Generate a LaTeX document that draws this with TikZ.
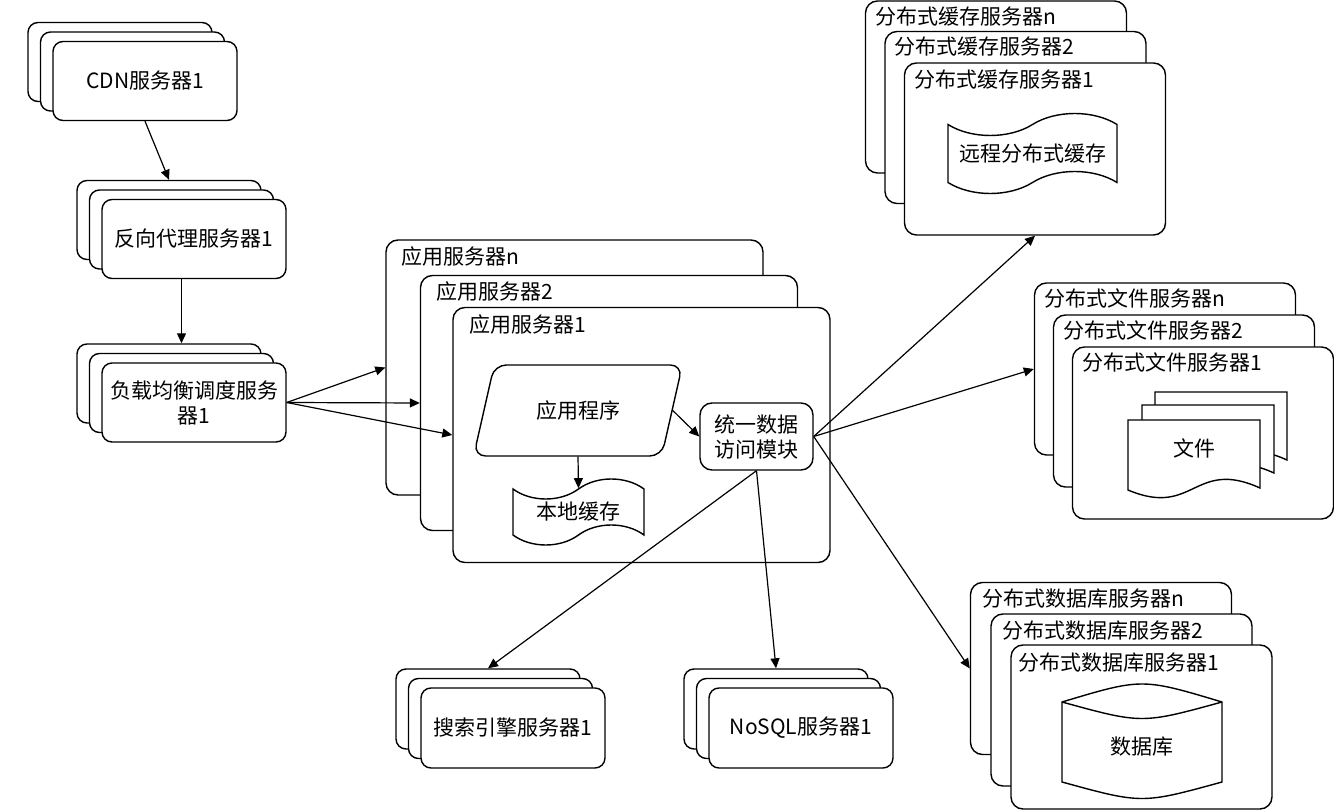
\documentclass[tikz,border=0pt]{standalone}
\usepackage{fontspec}
\setmainfont{Noto Sans CJK SC}
\usepackage{tikz}
\usetikzlibrary{arrows.meta,positioning,calc,shapes.geometric,shapes.symbols}
\tikzset{
  srvbox/.style={draw=black, fill=white, rounded corners=5pt, line width=0.7pt, minimum width=92pt, minimum height=39.5pt, align=center, inner sep=2pt},
  hostbox/.style={draw=black, fill=white, rounded corners=6pt, line width=0.7pt, inner sep=0pt},
  appbox/.style={hostbox, minimum width=188.5pt, minimum height=127.5pt},
  distbox/.style={hostbox, minimum width=130.5pt, minimum height=86pt},
  hostlabel/.style={anchor=west, inner sep=0pt},
  modbox/.style={draw=black, fill=white, rounded corners=6pt, line width=0.7pt, minimum width=56.5pt, minimum height=33.5pt, align=center, inner sep=1pt},
  progbox/.style={trapezium, trapezium left angle=70, trapezium right angle=110, trapezium stretches=true, draw=black, fill=white, rounded corners=6pt, line width=0.7pt, minimum width=105pt, minimum height=45.5pt},
  tapebox/.style={tape, draw=black, fill=white, line width=0.7pt, inner sep=1pt},
  docshape/.style={draw=black, fill=white, line width=0.7pt},
  flowarrow/.style={-{Triangle[length=5pt, width=4.5pt]}, line width=0.6pt},
}

\begin{document}
\begin{tikzpicture}[x=0.5pt, y=-0.5pt, font=\fontsize{10.5}{12.5}\selectfont]
  \useasboundingbox (0,0) rectangle (1334,812);
  % entry chain on the left
  \node[srvbox] (cdn3) at (120,62) {};
  \node[srvbox, on grid, below right=4.75pt and 6.25pt of cdn3] (cdn2) {};
  \node[srvbox, on grid, below right=4.75pt and 6.25pt of cdn2] (cdn1) {CDN服务器1};
  \node[srvbox] (proxy3) at (169,220) {};
  \node[srvbox, on grid, below right=4.75pt and 6.25pt of proxy3] (proxy2) {};
  \node[srvbox, on grid, below right=4.75pt and 6.25pt of proxy2] (proxy1) {反向代理服务器1};
  \node[srvbox] (lb3) at (169,383.5) {};
  \node[srvbox, on grid, below right=4.75pt and 6.25pt of lb3] (lb2) {};
  \node[srvbox, on grid, below right=4.75pt and 6.25pt of lb2] (lb1) {负载均衡调度服务\\器1};

  % application servers
  \node[appbox] (appN) at (574.5,367.5) {};
  \node[hostlabel] (appNlbl) at ($(appN.north west)+(16,17)$) {应用服务器n};
  \node[appbox] (app2) at (609,403) {};
  \node[hostlabel] (app2lbl) at ($(app2.north west)+(16,17)$) {应用服务器2};
  \node[appbox] (app1) at (641.5,435) {};
  \node[hostlabel] (app1lbl) at ($(app1.north west)+(17,18)$) {应用服务器1};
  \node[progbox] (prog) at (578,410.5) {应用程序};
  \node[tapebox, minimum width=65.5pt, minimum height=33pt, tape bend height=10pt] (lcache) at (578.5,512) {本地缓存};
  \node[modbox] (dam) at (756.5,436.5) {统一数据\\访问模块};

  % distributed cache
  \node[distbox] (cache3) at (996,87) {};
  \node[hostlabel] (cache3lbl) at ($(cache3.north west)+(10,16)$) {分布式缓存服务器n};
  \node[distbox] (cache2) at (1015.5,117.5) {};
  \node[hostlabel] (cache2lbl) at ($(cache2.north west)+(10,16)$) {分布式缓存服务器2};
  \node[distbox] (cache1) at (1035,149) {};
  \node[hostlabel] (cache1lbl) at ($(cache1.north west)+(10,17)$) {分布式缓存服务器1};
  \node[tapebox, minimum width=84.5pt, minimum height=40pt, tape bend height=11pt] (rcache) at (1032.5,153.5) {远程分布式缓存};

  % distributed files
  \node[distbox] (file3) at (1165,369) {};
  \node[hostlabel] (file3lbl) at ($(file3.north west)+(10,16)$) {分布式文件服务器n};
  \node[distbox] (file2) at (1184,401) {};
  \node[hostlabel] (file2lbl) at ($(file2.north west)+(10,16)$) {分布式文件服务器2};
  \node[distbox] (file1) at (1203,433) {};
  \node[hostlabel] (file1lbl) at ($(file1.north west)+(10,16)$) {分布式文件服务器1};
  \foreach \dx/\dy in {27/-28, 14/-15, 0/0}
    \draw[docshape, shift={(\dx,\dy)}] (1128,420) -- (1260,420) -- (1260,488)
      .. controls (1194,458) and (1194,518) .. (1128,490) -- cycle;
  \node (filedoc) at (1194,448) {文件};

  % distributed database
  \node[distbox] (db3) at (1101,668.5) {};
  \node[hostlabel] (db3lbl) at ($(db3.north west)+(12,17)$) {分布式数据库服务器n};
  \node[distbox] (db2) at (1121.5,700) {};
  \node[hostlabel] (db2lbl) at ($(db2.north west)+(12,17)$) {分布式数据库服务器2};
  \node[distbox, minimum height=82pt] (db1) at (1141.5,727) {};
  \node[hostlabel] (db1lbl) at ($(db1.north west)+(8,18)$) {分布式数据库服务器1};
  \draw[docshape] (1062,702) .. controls (1142,678) .. (1222,702) -- (1222,782)
    .. controls (1142,804) .. (1062,782) -- cycle;
  \draw[docshape] (1062,702) .. controls (1142,724) .. (1222,702);
  \node (dbdisk) at (1142,747) {数据库};

  % search and nosql
  \node[srvbox, minimum height=40pt] (search3) at (488,709) {};
  \node[srvbox, minimum height=40pt, on grid, below right=4.75pt and 6.25pt of search3] (search2) {};
  \node[srvbox, minimum height=40pt, on grid, below right=4.75pt and 6.25pt of search2] (search1) {搜索引擎服务器1};
  \node[srvbox, minimum height=40pt] (nosql3) at (776,709) {};
  \node[srvbox, minimum height=40pt, on grid, below right=4.75pt and 6.25pt of nosql3] (nosql2) {};
  \node[srvbox, minimum height=40pt, on grid, below right=4.75pt and 6.25pt of nosql2] (nosql1) {NoSQL服务器1};

  % connectors
  \draw[flowarrow] (cdn1.south) -- (proxy3.north);
  \draw[flowarrow] (proxy2.south |- proxy1.south) -- (proxy2.south |- lb3.north);
  \draw[flowarrow] (lb1.east) -- (appN.west);
  \draw[flowarrow] (lb1.east) -- (app2.west);
  \draw[flowarrow] (lb1.east) -- (app1.west);
  \draw[flowarrow] (prog.south) -- (lcache.north);
  \draw[flowarrow] (prog.east) -- (dam.west);
  \draw[flowarrow] (dam.east) -- (cache1.south);
  \draw[flowarrow] (dam.east) -- (file3.west);
  \draw[flowarrow] (dam.east) -- (db3.west);
  \draw[flowarrow] (dam.south) -- (search3.north);
  \draw[flowarrow] (dam.south) -- (nosql3.north);
\end{tikzpicture}
\end{document}
